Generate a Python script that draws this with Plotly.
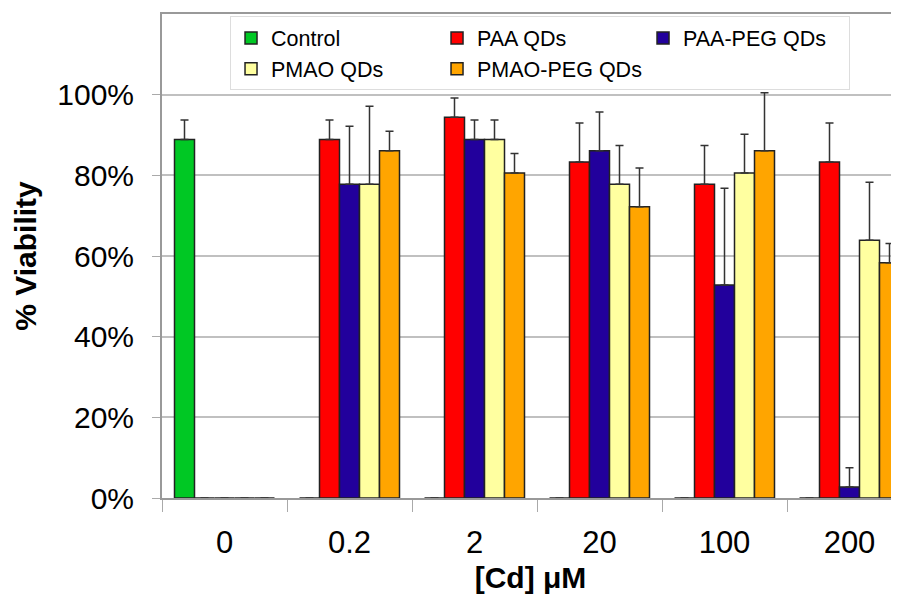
import plotly.graph_objects as go

categories = ["0", "0.2", "2", "20", "100", "200"]
series_names = ["Control", "PAA QDs", "PAA-PEG QDs", "PMAO QDs", "PMAO-PEG QDs"]

control = [88.9, 0, 0, 0, 0, 0]
control_err = [4.8, 0, 0, 0, 0, 0]
paa = [0, 88.9, 94.4, 83.3, 77.8, 83.3]
paa_err = [0, 4.8, 4.8, 9.7, 9.6, 9.7]
paa_peg = [0, 77.8, 88.9, 86.1, 52.8, 2.7]
paa_peg_err = [0, 14.4, 4.8, 9.6, 24.0, 4.8]
pmao = [0, 77.8, 88.9, 77.8, 80.6, 63.9]
pmao_err = [0, 19.3, 4.8, 9.6, 9.6, 14.4]
pmao_peg = [0, 86.1, 80.6, 72.2, 86.1, 58.3]
pmao_peg_err = [0, 4.8, 4.8, 9.6, 14.4, 4.8]

colors = ["#00c824", "#ff0000", "#22009c", "#ffffa0", "#ffa500"]
y_tickvals = [0, 20, 40, 60, 80, 100]
y_ticktext = ["0%", "20%", "40%", "60%", "80%", "100%"]

values = [control, paa, paa_peg, pmao, pmao_peg]
errors = [control_err, paa_err, paa_peg_err, pmao_err, pmao_peg_err]

FONT = "Liberation Sans, Arial, sans-serif"

fig = go.Figure()
for name, vals, errs, col in zip(series_names, values, errors, colors):
    fig.add_trace(go.Bar(
        name=name,
        x=categories,
        y=vals,
        marker=dict(color=col, line=dict(color="#222222", width=1.5)),
        error_y=dict(type="data", symmetric=False, array=errs,
                     arrayminus=[0] * len(errs),
                     color="#333333", thickness=1.5, width=4),
    ))

# the page body adds an 8px offset, so the figure is 8px smaller on each axis
fig.update_layout(
    width=891, height=591,
    margin=dict(l=154, r=0, t=6, b=101),
    paper_bgcolor="white", plot_bgcolor="white",
    barmode="group", bargap=0.2, bargroupgap=0,
    font=dict(family=FONT, color="black"),
    showlegend=True,
    legend=dict(
        orientation="h", x=0.0923, y=0.995, xanchor="left", yanchor="top",
        entrywidth=161, font=dict(size=21.5, family=FONT, color="black"),
        bgcolor="white", bordercolor="#dddddd", borderwidth=1,
        traceorder="normal",
    ),
    xaxis=dict(
        type="category", range=[-0.5, 5.396],
        showline=True, linecolor="#999999", linewidth=1.5, mirror=True,
        ticks="outside", tickson="boundaries", ticklen=12, tickcolor="#aaaaaa",
        tickwidth=1,
        tickfont=dict(size=31, family=FONT, color="black"),
        ticklabelstandoff=16,
        showgrid=False, zeroline=False,
        layer="below traces",
        title=dict(text="[Cd] μM", font=dict(size=30, family=FONT, weight="bold"),
                   standoff=8),
    ),
    yaxis=dict(
        range=[0, 120], tickvals=y_tickvals, ticktext=y_ticktext,
        showline=True, linecolor="#999999", linewidth=2,
        ticks="outside", ticklen=8, tickcolor="#aaaaaa", tickwidth=1,
        tickfont=dict(size=30, family=FONT, color="black"),
        ticklabelstandoff=12,
        showgrid=True, gridcolor="#c0c0c0", gridwidth=1.5,
        zeroline=False,
        title=dict(text="% Viability", font=dict(size=30, family=FONT, weight="bold"),
                   standoff=12),
    ),
)

fig.write_html("out.html")
